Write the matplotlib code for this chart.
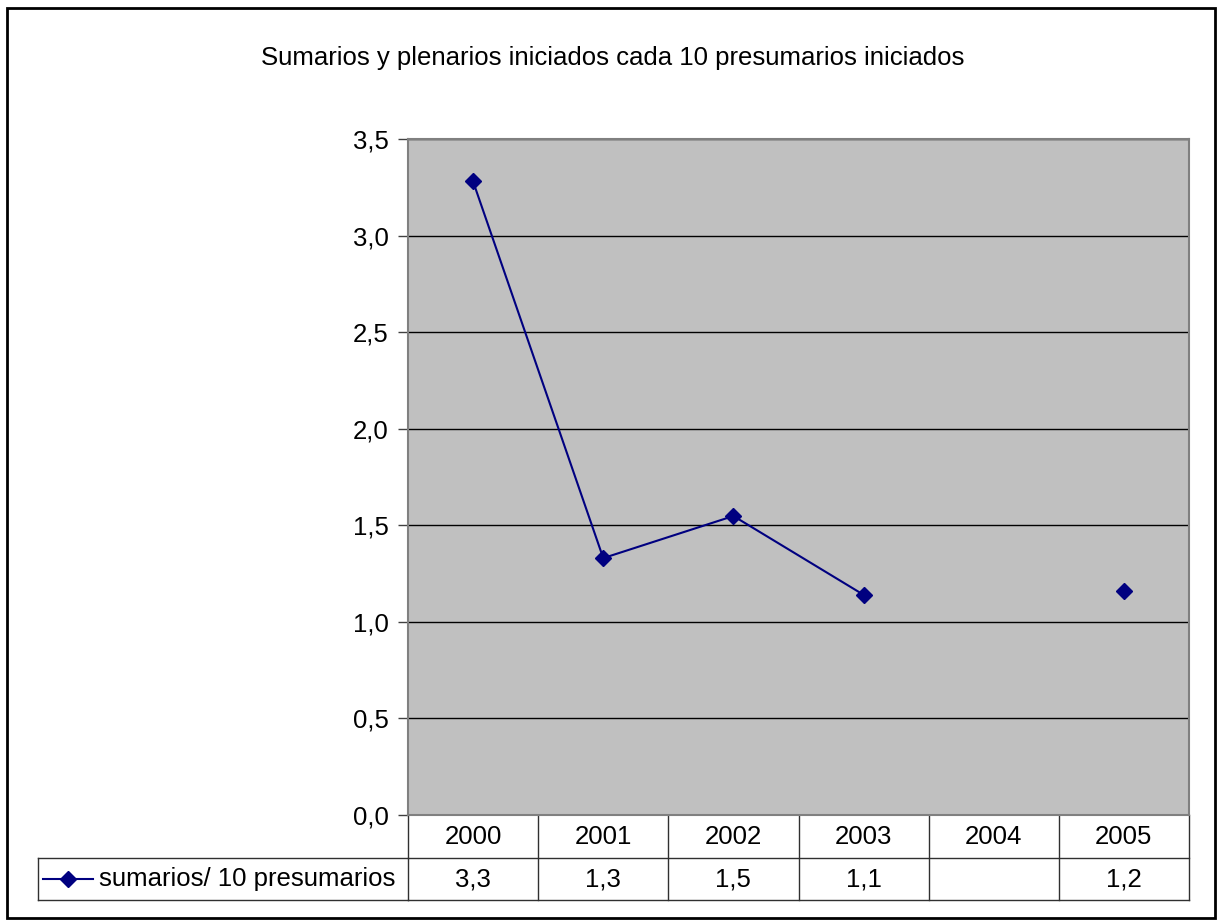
import numpy as np
import matplotlib
matplotlib.use("Agg")
import matplotlib.pyplot as plt
from matplotlib.patches import Rectangle
from matplotlib.lines import Line2D
from matplotlib.ticker import FuncFormatter, MultipleLocator
import matplotlib.transforms as mtransforms

years = ["2000", "2001", "2002", "2003", "2004", "2005"]
sumarios = [3.28, 1.33, 1.548, 1.14, np.nan, 1.16]
series_name = "sumarios/ 10 presumarios"
title = "Sumarios y plenarios iniciados cada 10 presumarios iniciados"

plt.rcParams["font.family"] = ["Liberation Sans", "DejaVu Sans"]
FS = 18.5
W, H = 1218, 924
fig = plt.figure(figsize=(W / 100, H / 100), dpi=100)

# outer border
fig.patches.append(Rectangle((7 / W, 6 / H), (1215 - 7) / W, (917 - 7) / H,
                             transform=fig.transFigure, fill=False,
                             edgecolor="black", linewidth=2))

left, right, top, bottom = 408, 1189, 139, 815
ax = fig.add_axes([left / W, 1 - bottom / H, (right - left) / W, (bottom - top) / H])
ax.set_facecolor("#C0C0C0")
x = np.arange(len(years))
ax.plot(x, sumarios, color="#000080", linewidth=1.5, marker="D",
        markersize=8.5, zorder=3)
ax.set_xlim(-0.5, len(years) - 0.5)
ax.set_ylim(0, 3.5)
ax.yaxis.set_major_locator(MultipleLocator(0.5))
ax.yaxis.set_major_formatter(FuncFormatter(lambda v, p: f"{v:.1f}".replace(".", ",")))
ax.grid(axis="y", color="black", linewidth=1)
ax.set_axisbelow(True)
ax.set_xticks([])
ax.tick_params(axis="y", labelsize=FS, length=7, width=1, color="#404040", pad=7)
for s in ax.spines.values():
    s.set_color("#808080")
    s.set_linewidth(1.5)

fig.text(613 / W, 1 - 58 / H, title, ha="center", va="center", fontsize=FS)

# data table below the plot
trans = mtransforms.blended_transform_factory(ax.transData, ax.transAxes)
ph = bottom - top
r1 = -(858 - bottom) / ph
r2 = -(900 - bottom) / ph
xl = (38 - left) / (right - left)
lc = "#303030"
lines = [
    ([-0.5, 5.5], [r1, r1]),
    ([-0.5, 5.5], [r2, r2]),
    ([-0.5, -0.5], [0, r2]),
    ([5.5, 5.5], [0, r2]),
]
for i in range(1, len(years)):
    lines.append(([i - 0.5, i - 0.5], [0, r2]))
for xs, ys in lines:
    ax.add_line(Line2D(xs, ys, transform=trans, color=lc, linewidth=1, clip_on=False))
for xs, ys in [([xl, 0], [r1, r1]), ([xl, 0], [r2, r2]), ([xl, xl], [r1, r2])]:
    ax.add_line(Line2D(xs, ys, transform=ax.transAxes, color=lc, linewidth=1, clip_on=False))

for i, (yr, v) in enumerate(zip(years, sumarios)):
    ax.text(i, (0 + r1) / 2, yr, transform=trans, ha="center", va="center", fontsize=FS)
    if not np.isnan(v):
        ax.text(i, (r1 + r2) / 2, f"{v:.1f}".replace(".", ","), transform=trans,
                ha="center", va="center", fontsize=FS)

# legend key in table
ym = (r1 + r2) / 2
k0, k1 = (43 - left) / (right - left), (93 - left) / (right - left)
ax.add_line(Line2D([k0, k1], [ym, ym], transform=ax.transAxes, color="#000080",
                   linewidth=1.5, clip_on=False))
ax.add_line(Line2D([(k0 + k1) / 2], [ym], transform=ax.transAxes, color="#000080",
                   marker="D", markersize=8.5, clip_on=False))
ax.text((99 - left) / (right - left), ym, series_name, transform=ax.transAxes,
        ha="left", va="center", fontsize=FS)

fig.savefig("out.png", dpi=100)
